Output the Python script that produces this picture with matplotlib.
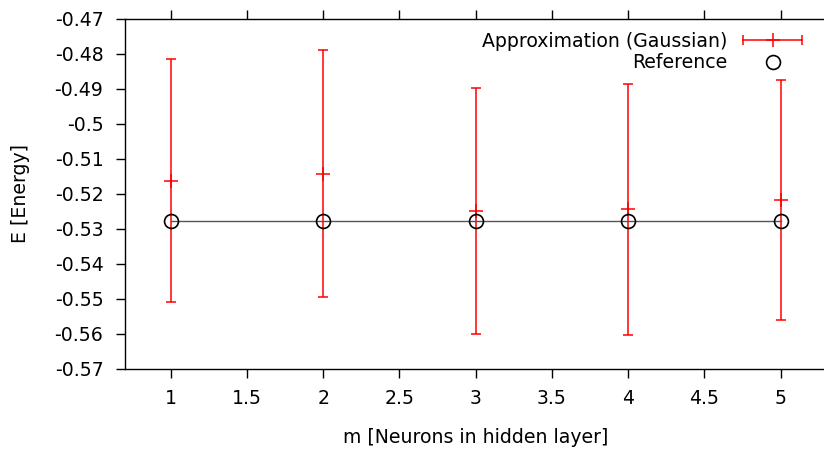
import matplotlib
matplotlib.use('Agg')
import matplotlib.pyplot as plt
from matplotlib.lines import Line2D
from matplotlib.legend_handler import HandlerLine2D, HandlerTuple

# neurons in hidden layer
m = [1, 2, 3, 4, 5]
# approximation (gaussian): mean energy and its error
e_approx = [-0.5163, -0.5143, -0.5249, -0.5245, -0.5218]
e_err = [0.0348, 0.0353, 0.0352, 0.0358, 0.0343]
# reference energy
e_ref = [-0.5279, -0.5279, -0.5279, -0.5279, -0.5279]

xticks = [1, 1.5, 2, 2.5, 3, 3.5, 4, 4.5, 5]
yticks = [-0.47, -0.48, -0.49, -0.5, -0.51, -0.52, -0.53, -0.54, -0.55, -0.56, -0.57]


def main():
    plt.rcParams['font.family'] = 'DejaVu Sans'
    plt.rcParams['font.size'] = 13.6
    plt.rcParams['axes.unicode_minus'] = False

    fig = plt.figure(figsize=(8.24, 4.53), dpi=100)
    ax = fig.add_axes([0.1517, 0.1865, 0.8513, 0.7725])

    ax.errorbar(m, e_approx, yerr=e_err, fmt='+', color='#ff0000', ecolor='#ff0000',
                elinewidth=1.1, capsize=3.4, capthick=1.1, markersize=10.5,
                markeredgewidth=1.1, zorder=2)
    ax.plot(m, e_ref, color='#555555', lw=1.0, zorder=3)
    ax.plot(m, e_ref, 'o', mfc='none', mec='black', ms=10, mew=1.2, zorder=4)

    ax.set_xlim(0.7, 5.3)
    ax.set_ylim(-0.57, -0.47)
    ax.set_xticks(xticks)
    ax.set_xticklabels([('%g' % t) for t in xticks])
    ax.set_yticks(yticks)
    ax.set_yticklabels([('%g' % t) for t in yticks])

    ax.spines['right'].set_visible(False)
    for s in ['left', 'top', 'bottom']:
        ax.spines[s].set_linewidth(1.0)
    ax.tick_params(direction='out', length=6.5, width=1.0, top=True, right=False)
    ax.tick_params(axis='x', pad=8.5)
    ax.tick_params(axis='y', pad=9)

    ax.set_xlabel('m [Neurons in hidden layer]', labelpad=14.5)
    ax.set_ylabel('E [Energy]', labelpad=18)

    # gnuplot style key samples
    h_line = Line2D([], [], color='#ff0000', lw=1.1, marker='+', ms=10, mew=1.1)
    h_caps = Line2D([], [], color='#ff0000', ls='none', marker='|', ms=6.5, mew=1.1)
    h_ref = Line2D([], [], ls='none', marker='o', mfc='none', mec='black', ms=10, mew=1.2)
    ax.legend([(h_line, h_caps), h_ref], ['Approximation (Gaussian)', 'Reference'],
              handler_map={h_caps: HandlerLine2D(numpoints=2, marker_pad=0),
                           tuple: HandlerTuple(ndivide=1)},
              loc='upper right', bbox_to_anchor=(0.965, 0.962), frameon=False,
              markerfirst=False, borderpad=0, borderaxespad=0,
              handlelength=3.1, handletextpad=0.85, labelspacing=0.12)

    fig.savefig('out.png', dpi=100)


if __name__ == '__main__':
    main()
